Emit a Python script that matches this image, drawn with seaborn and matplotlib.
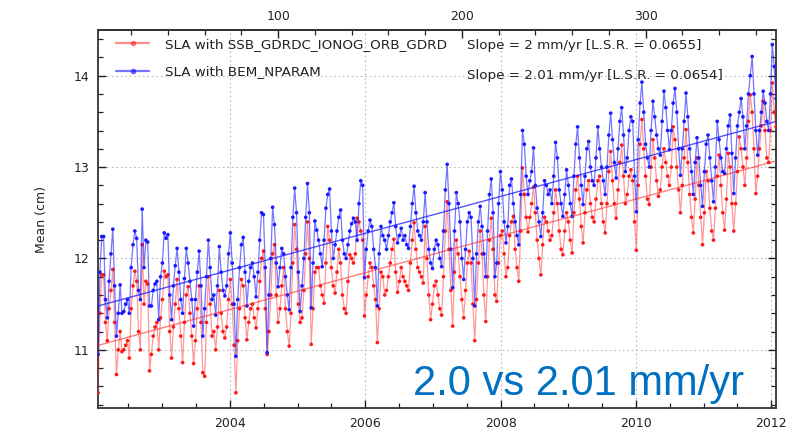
import numpy as np
import pandas as pd
import matplotlib
matplotlib.use("Agg")
import matplotlib.pyplot as plt
from matplotlib.lines import Line2D
from matplotlib.ticker import MultipleLocator, FixedLocator
from matplotlib import font_manager
import seaborn as sns

# ---------------- data (cm), one value per ~10-day cycle ----------------
blue_y1 = [10.95, 11.85, 12.24, 12.24, 11.55, 11.35, 11.75, 12.05, 12.32, 11.70, 11.15, 11.40, 11.71, 11.40, 11.42, 11.50, 11.55, 11.40, 11.90, 12.15, 12.30, 12.22, 11.65, 11.55, 12.54, 11.90, 12.20, 12.18, 11.48, 11.48, 11.65, 11.72, 11.75, 11.33, 11.80, 11.95, 12.28]
blue_y2 = [12.22, 12.26, 11.60, 11.33, 11.70, 11.92, 12.11, 11.85, 11.55, 11.40, 11.78, 12.11, 11.95, 11.75, 11.55, 11.26, 11.55, 11.85, 12.08, 11.70, 11.15, 11.45, 11.80, 12.20, 11.90, 11.55, 11.60, 11.38, 11.70, 12.13, 11.85, 11.65, 11.59, 11.70, 12.05, 12.28, 11.95]
blue_y3 = [11.50, 10.93, 11.55, 11.90, 12.15, 12.23, 11.85, 11.48, 11.75, 11.90, 11.95, 11.80, 11.58, 11.85, 12.20, 12.50, 12.48, 11.90, 10.97, 11.60, 12.00, 12.56, 12.37, 11.95, 11.69, 11.90, 12.11, 12.05, 11.80, 11.60, 11.44, 11.90, 12.45, 12.77, 12.50, 11.85, 11.42]
blue_y4 = [11.70, 12.00, 12.45, 12.82, 12.50, 11.46, 11.95, 12.41, 12.31, 12.20, 12.05, 11.91, 12.20, 12.55, 12.70, 12.76, 12.30, 12.00, 12.15, 12.30, 12.45, 12.53, 12.20, 12.05, 12.00, 12.15, 12.30, 12.38, 12.44, 12.40, 12.20, 12.60, 12.85, 12.80, 11.79, 12.10, 12.30]
blue_y5 = [12.42, 12.35, 12.10, 11.90, 11.48, 12.05, 12.35, 12.25, 12.20, 12.10, 12.25, 12.40, 12.50, 12.61, 12.35, 12.17, 12.25, 12.33, 12.20, 12.25, 12.15, 12.11, 12.35, 12.60, 12.79, 12.50, 12.30, 12.25, 12.20, 12.40, 12.72, 12.40, 12.10, 11.95, 11.89, 12.10, 12.20]
blue_y6 = [12.15, 12.00, 11.91, 12.30, 12.75, 13.03, 12.60, 12.10, 11.68, 12.30, 12.72, 12.60, 12.40, 12.00, 11.77, 12.10, 12.40, 12.50, 12.45, 12.00, 11.48, 12.05, 12.40, 12.57, 12.35, 12.05, 11.80, 12.30, 12.70, 12.87, 12.50, 11.80, 11.95, 12.60, 12.95, 12.75, 12.40]
blue_y7 = [12.17, 12.35, 12.80, 12.87, 12.60, 12.40, 12.25, 12.15, 12.70, 13.40, 13.25, 12.90, 12.70, 12.85, 12.95, 13.21, 12.80, 12.55, 12.40, 12.24, 12.50, 12.85, 12.80, 12.70, 12.75, 12.60, 12.90, 13.27, 13.10, 12.75, 12.60, 12.46, 12.70, 12.97, 12.80, 12.60, 12.46]
blue_y8 = [12.90, 13.25, 13.44, 13.10, 12.80, 12.59, 12.90, 13.20, 13.28, 13.00, 12.85, 12.80, 13.10, 13.44, 13.20, 13.00, 12.85, 12.70, 13.00, 13.35, 13.59, 13.30, 13.05, 12.88, 13.20, 13.50, 13.65, 13.35, 12.95, 13.10, 13.40, 13.55, 13.50, 12.90, 12.51, 13.30, 13.70]
blue_y9 = [13.93, 13.60, 13.25, 13.10, 13.00, 13.40, 13.72, 13.55, 13.35, 13.20, 13.13, 13.50, 13.83, 13.65, 13.40, 13.19, 13.40, 13.70, 13.86, 13.60, 13.20, 12.91, 13.20, 13.50, 13.81, 13.55, 13.20, 12.95, 12.70, 13.05, 13.32, 13.10, 12.80, 12.57, 12.95, 13.25, 13.35]
blue_y10 = [13.10, 12.85, 12.62, 13.00, 13.50, 13.30, 13.10, 12.95, 12.93, 13.20, 13.45, 13.57, 13.15, 12.71, 13.10, 13.45, 13.60, 13.75, 13.55, 13.20, 13.45, 13.80, 14.00, 14.21, 13.80, 13.40, 13.13, 13.40, 13.60, 13.83, 13.70, 13.50, 13.40, 13.80, 14.34, 14.10, 13.75]

red_y1 = [10.53, 11.40, 11.82, 11.82, 11.30, 11.10, 11.45, 11.65, 11.88, 11.30, 10.73, 11.00, 11.20, 10.98, 11.00, 11.05, 11.10, 10.91, 11.45, 11.70, 11.86, 11.75, 11.20, 11.00, 12.15, 11.50, 11.75, 11.72, 10.77, 10.95, 11.15, 11.25, 11.30, 11.00, 11.35, 11.55, 11.86]
red_y2 = [11.80, 11.82, 11.20, 10.91, 11.25, 11.50, 11.77, 11.45, 11.15, 10.86, 11.30, 11.60, 11.69, 11.40, 11.15, 10.85, 11.10, 11.45, 11.70, 11.30, 10.75, 10.71, 11.30, 11.80, 11.50, 11.15, 11.20, 11.00, 11.25, 11.65, 11.40, 11.20, 11.13, 11.25, 11.55, 11.77, 11.50]
red_y3 = [11.05, 10.53, 11.10, 11.45, 11.77, 11.70, 11.35, 11.11, 11.30, 11.45, 11.50, 11.35, 11.24, 11.45, 11.75, 12.00, 12.08, 11.45, 10.95, 11.20, 11.60, 12.05, 12.15, 11.60, 11.30, 11.45, 11.70, 11.90, 11.45, 11.20, 11.04, 11.40, 11.95, 12.37, 12.10, 11.50, 11.30]
red_y4 = [11.35, 11.65, 12.05, 12.40, 12.00, 11.06, 11.45, 11.85, 11.90, 11.90, 11.70, 11.60, 11.51, 11.95, 12.35, 12.20, 11.90, 11.70, 11.62, 11.85, 12.10, 11.95, 11.60, 11.45, 11.40, 11.75, 12.04, 12.00, 11.95, 12.05, 12.44, 12.40, 12.30, 12.20, 11.37, 11.60, 11.80]
red_y5 = [11.95, 11.90, 11.70, 11.55, 11.08, 11.45, 11.85, 11.80, 11.60, 11.65, 11.80, 11.95, 12.10, 12.21, 11.85, 11.63, 11.75, 11.90, 11.80, 11.75, 11.70, 11.65, 11.95, 12.20, 12.39, 12.10, 11.90, 11.85, 11.80, 11.73, 12.35, 12.00, 11.60, 11.33, 11.50, 11.70, 11.75]
red_y6 = [11.60, 11.45, 11.38, 11.80, 12.30, 12.62, 12.10, 11.65, 11.26, 11.85, 12.20, 12.05, 11.80, 11.55, 11.35, 11.65, 11.95, 12.08, 11.95, 11.50, 11.10, 11.55, 11.95, 12.30, 12.05, 11.60, 11.31, 11.80, 12.20, 12.44, 12.10, 11.60, 11.53, 11.95, 12.25, 12.30, 12.05]
red_y7 = [11.80, 11.90, 12.25, 12.40, 12.46, 12.10, 11.90, 11.75, 12.30, 12.99, 12.70, 12.45, 12.29, 12.45, 12.60, 12.78, 12.50, 12.20, 12.00, 11.82, 12.15, 12.45, 12.40, 12.30, 12.20, 12.25, 12.50, 12.75, 12.60, 12.30, 12.10, 12.04, 12.30, 12.50, 12.40, 12.20, 12.06]
red_y8 = [12.50, 12.75, 12.90, 12.65, 12.35, 12.17, 12.50, 12.75, 12.85, 12.60, 12.45, 12.40, 12.65, 12.85, 12.90, 12.60, 12.40, 12.28, 12.60, 12.95, 13.17, 12.85, 12.60, 12.44, 12.75, 13.05, 13.24, 12.90, 12.60, 12.70, 12.90, 12.97, 12.85, 12.40, 12.09, 12.80, 13.25]
red_y9 = [13.52, 13.20, 12.90, 12.65, 12.59, 13.00, 13.30, 13.10, 12.85, 12.68, 12.75, 13.00, 13.20, 13.05, 12.90, 12.80, 13.00, 13.44, 13.30, 13.00, 12.75, 12.50, 12.80, 13.10, 13.41, 13.05, 12.70, 12.45, 12.28, 12.65, 13.10, 12.80, 12.45, 12.15, 12.50, 12.95, 12.85]
red_y10 = [12.55, 12.30, 12.20, 12.55, 12.90, 13.13, 12.80, 12.50, 12.31, 12.65, 13.15, 13.00, 12.60, 12.30, 12.60, 12.95, 13.33, 13.20, 13.00, 12.80, 13.10, 13.50, 13.79, 13.60, 13.20, 12.71, 12.90, 13.20, 13.45, 13.72, 13.40, 13.10, 13.05, 13.40, 13.92, 13.60, 13.44]

series_labels = ["SLA with SSB_GDRDC_IONOG_ORB_GDRD", "SLA with BEM_NPARAM"]
slope_labels = ["Slope = 2 mm/yr [L.S.R. = 0.0655]", "Slope = 2.01 mm/yr [L.S.R. = 0.0654]"]
annotation = "2.0 vs 2.01 mm/yr"
y_label = "Mean (cm)"
year_ticks = [2004, 2006, 2008, 2010, 2012]
cycle_ticks = [100, 200, 300]
y_ticks = [11, 12, 13, 14]
first_cycle = 2
cycle_days = 9.9156
cycle0_year = 2001.998

# ---------------- assemble ----------------
red_vals = np.concatenate([red_y1, red_y2, red_y3, red_y4, red_y5, red_y6, red_y7, red_y8, red_y9, red_y10])
blue_vals = np.concatenate([blue_y1, blue_y2, blue_y3, blue_y4, blue_y5, blue_y6, blue_y7, blue_y8, blue_y9, blue_y10])
cycles = np.arange(first_cycle, first_cycle + len(blue_vals))
years = cycle0_year + cycles * cycle_days / 365.25
df = pd.DataFrame({"year": years, "red": red_vals, "blue": blue_vals})

def y2c(y):
    return (np.asarray(y) - cycle0_year) * 365.25 / cycle_days

def c2y(c):
    return cycle0_year + np.asarray(c) * cycle_days / 365.25

# ---------------- fonts ----------------
sns.set_theme(style="ticks")
names = {f.name for f in font_manager.fontManager.ttflist}
plt.rcParams["font.family"] = ["DejaVu Sans"]
big_font = "Liberation Sans Narrow" if "Liberation Sans Narrow" in names else "Liberation Sans"
big_size = 37 if big_font == "Liberation Sans Narrow" else 30

RED = "#ff1a1a"
BLUE = "#1a1aff"
ANNOT = "#0070c0"
TXT = "#222222"

fig = plt.figure(figsize=(7.93, 4.36), dpi=100)
ax = fig.add_axes([0.1237, 0.0635, 0.8549, 0.8677])

# series lines (faint) and markers (solid)
sns.lineplot(data=df, x="year", y="red", ax=ax, color=RED, alpha=0.45, lw=0.9, zorder=3)
sns.scatterplot(data=df, x="year", y="red", ax=ax, color=RED, s=7, edgecolor="none", zorder=4)
sns.lineplot(data=df, x="year", y="blue", ax=ax, color=BLUE, alpha=0.6, lw=0.9, zorder=5)
sns.scatterplot(data=df, x="year", y="blue", ax=ax, color=BLUE, s=7, edgecolor="none", zorder=6)

# linear trends fitted from the data
for col, c, a in [("red", RED, 0.55), ("blue", BLUE, 0.75)]:
    k, b = np.polyfit(df["year"], df[col], 1)
    xx = np.array([df["year"].iloc[0], df["year"].iloc[-1]])
    ax.plot(xx, k * xx + b, color=c, lw=1.0, alpha=a, zorder=7)

ax.set_xlim(years[0], years[-1])
ax.set_ylim(10.36, 14.50)

# ticks
ax.xaxis.set_major_locator(FixedLocator(year_ticks))
ax.xaxis.set_minor_locator(MultipleLocator(0.5))
ax.set_xticklabels([str(t) for t in year_ticks])
ax.yaxis.set_major_locator(FixedLocator(y_ticks))
ax.yaxis.set_minor_locator(MultipleLocator(0.2))
ax.set_yticklabels([str(t) for t in y_ticks])
ax.tick_params(which="both", direction="in", right=True, top=False, color=TXT)
ax.tick_params(which="major", length=6, width=1.0, labelsize=9, pad=6, labelcolor=TXT)
ax.tick_params(which="minor", length=3.5, width=0.9)

top = ax.secondary_xaxis("top", functions=(y2c, c2y))
top.xaxis.set_major_locator(FixedLocator(cycle_ticks))
top.xaxis.set_minor_locator(MultipleLocator(20))
top.tick_params(which="both", direction="in", color=TXT)
top.tick_params(which="major", length=6, width=1.0, labelsize=9, pad=5, labelcolor=TXT)
top.tick_params(which="minor", length=3.5, width=0.9)
top.spines["top"].set_linewidth(1.3)
top.spines["top"].set_color("#333333")

ax.grid(True, which="major", linestyle=(0, (1.5, 2.5)), color="#bbbbbb", lw=0.8)
for s in ax.spines.values():
    s.set_linewidth(1.3)
    s.set_color("#333333")

ax.set_xlabel("")
ax.set_ylabel(y_label, fontsize=9, labelpad=19, color=TXT)

# legend
handles = [
    Line2D([], [], color=RED, alpha=0.5, lw=1.6, marker="o", markersize=3,
           markerfacecolor=RED, markeredgecolor=RED),
    Line2D([], [], color=BLUE, alpha=0.6, lw=1.6, marker="o", markersize=3,
           markerfacecolor=BLUE, markeredgecolor=BLUE),
]
leg = ax.legend(handles, series_labels, loc="upper left", bbox_to_anchor=(0.0205, 0.9894),
                frameon=False, fontsize=9.7, handlelength=2.45, handletextpad=1.2,
                labelspacing=1.06, borderaxespad=0.0, borderpad=0.3, numpoints=1)
for t in leg.get_texts():
    t.set_color(TXT)

ax.text(0.544, 0.9585, slope_labels[0], transform=ax.transAxes, fontsize=9.7,
        va="center", ha="left", color=TXT, zorder=10)
ax.text(0.544, 0.879, slope_labels[1], transform=ax.transAxes, fontsize=9.7,
        va="center", ha="left", color=TXT, zorder=10)

fig.text(0.5204, 0.094, annotation, color=ANNOT, fontsize=big_size,
         family=big_font, ha="left", va="baseline")

fig.savefig("out.png", dpi=100)
